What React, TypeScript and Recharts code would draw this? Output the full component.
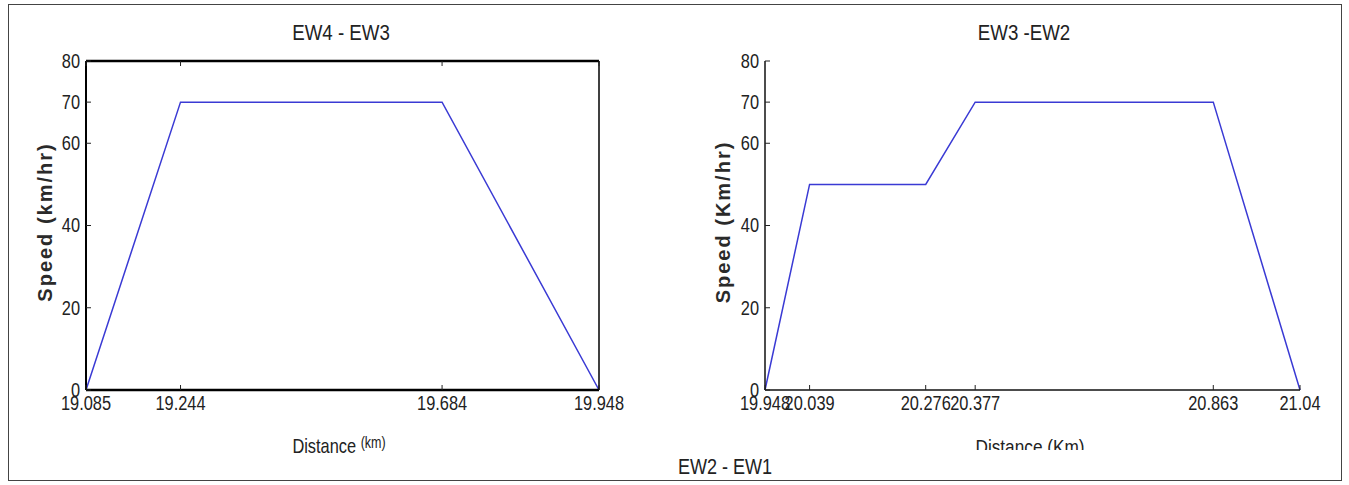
import React from "react";
import { LineChart, Line, XAxis, YAxis } from "recharts";

// EW4 - EW3 run
const leftDistance = [19.085, 19.244, 19.684, 19.948];
const leftSpeed = [0, 70, 70, 0];

// EW3 - EW2 run
const rightDistance = [19.948, 20.039, 20.276, 20.377, 20.863, 21.04];
const rightSpeed = [0, 50, 50, 70, 70, 0];

const speedTicks = [0, 20, 40, 60, 70, 80];

const FONT = "'Liberation Sans', Arial, sans-serif";
const GAP = 3;
const MARK = 5;
const SQUEEZE = 0.78;

const leftData = leftDistance.map((d, i) => ({ distance: d, speed: leftSpeed[i] }));
const rightData = rightDistance.map((d, i) => ({ distance: d, speed: rightSpeed[i] }));

// narrow tick text, the source uses a condensed face
const TickText = ({ x, y, anchor, dy, children }: any) => (
  <text
    transform={`translate(${x},${y}) scale(${SQUEEZE},1)`}
    dy={dy}
    textAnchor={anchor}
    fontFamily={FONT}
    fontSize={21}
    fill="#222"
  >
    {children}
  </text>
);

const BottomTick = (props: any) => {
  const { x, y, payload } = props;
  return (
    <g>
      <line x1={x} y1={y - GAP} x2={x} y2={y - GAP - MARK} stroke="#222" />
      <TickText x={x} y={y} anchor="middle" dy="0.8em">
        {payload.value}
      </TickText>
    </g>
  );
};

const TopTick = (props: any) => {
  const { x, y } = props;
  return <line x1={x} y1={y + GAP} x2={x} y2={y + GAP + MARK} stroke="#222" />;
};

const LeftTick = (props: any) => {
  const { x, y, payload } = props;
  return (
    <g>
      <line x1={x + GAP} y1={y} x2={x + GAP + MARK} y2={y} stroke="#222" />
      <TickText x={x - 3} y={y} anchor="end" dy="0.33em">
        {payload.value}
      </TickText>
    </g>
  );
};

const RightTick = (props: any) => {
  const { x, y } = props;
  return <line x1={x - GAP} y1={y} x2={x - GAP - MARK} y2={y} stroke="#222" />;
};

const textStyle = (scale: number): React.CSSProperties => ({
  position: "absolute",
  fontFamily: FONT,
  color: "#222",
  whiteSpace: "nowrap",
  lineHeight: 1,
  transform: `translateX(-50%) scaleX(${scale})`,
});

const yLabelStyle: React.CSSProperties = {
  position: "absolute",
  fontFamily: FONT,
  fontWeight: "bold",
  fontSize: 20,
  letterSpacing: 2,
  color: "#2a2a2a",
  whiteSpace: "nowrap",
  lineHeight: 1,
  transform: "translate(-50%, -50%) rotate(-90deg)",
};

export default function App() {
  return (
    <div style={{ position: "absolute", left: 0, top: 0, width: 1349, height: 485, background: "#fff" }}>
      <div
        style={{
          position: "absolute",
          left: 8,
          top: 4,
          width: 1332,
          height: 475,
          border: "1.5px solid #444",
        }}
      />

      {/* Left chart: EW4 - EW3 */}
      <div style={{ position: "absolute", left: 0, top: 0 }}>
        <LineChart width={660} height={485} data={leftData} margin={{ top: 60, right: 60, bottom: 65, left: 46 }}>
          <XAxis
            dataKey="distance"
            type="number"
            domain={[leftDistance[0], leftDistance[leftDistance.length - 1]]}
            ticks={leftDistance}
            interval={0}
            tickSize={0}
            tickMargin={GAP}
            tick={BottomTick}
            height={30}
            axisLine={{ stroke: "#000", strokeWidth: 2.5 }}
          />
          <XAxis
            xAxisId="top"
            orientation="top"
            dataKey="distance"
            type="number"
            domain={[leftDistance[0], leftDistance[leftDistance.length - 1]]}
            ticks={leftDistance}
            interval={0}
            tickSize={0}
            tickMargin={GAP}
            tick={TopTick}
            height={1}
            axisLine={{ stroke: "#000", strokeWidth: 2.5 }}
          />
          <YAxis
            type="number"
            domain={[0, 80]}
            ticks={speedTicks}
            interval={0}
            tickSize={0}
            tickMargin={GAP}
            tick={LeftTick}
            width={40}
            axisLine={{ stroke: "#000", strokeWidth: 2 }}
          />
          <YAxis
            yAxisId="right"
            orientation="right"
            type="number"
            domain={[0, 80]}
            ticks={speedTicks}
            interval={0}
            tickSize={0}
            tickMargin={GAP}
            tick={RightTick}
            width={1}
            axisLine={{ stroke: "#000", strokeWidth: 1.5 }}
          />
          <Line
            type="linear"
            dataKey="speed"
            stroke="#3a3ad4"
            strokeWidth={1.5}
            dot={false}
            isAnimationActive={false}
          />
        </LineChart>
      </div>

      {/* Right chart: EW3 - EW2 */}
      <div style={{ position: "absolute", left: 680, top: 0 }}>
        <LineChart width={669} height={485} data={rightData} margin={{ top: 61, right: 49, bottom: 65, left: 45 }}>
          <XAxis
            dataKey="distance"
            type="number"
            domain={[rightDistance[0], rightDistance[rightDistance.length - 1]]}
            ticks={rightDistance}
            interval={0}
            tickSize={0}
            tickMargin={GAP}
            tick={BottomTick}
            height={30}
            axisLine={{ stroke: "#111", strokeWidth: 1.5 }}
          />
          <YAxis
            type="number"
            domain={[0, 80]}
            ticks={speedTicks}
            interval={0}
            tickSize={0}
            tickMargin={GAP}
            tick={LeftTick}
            width={40}
            axisLine={{ stroke: "#111", strokeWidth: 1.5 }}
          />
          <Line
            type="linear"
            dataKey="speed"
            stroke="#3a3ad4"
            strokeWidth={1.5}
            dot={false}
            isAnimationActive={false}
          />
        </LineChart>
      </div>

      <div style={{ ...textStyle(0.85), left: 341, top: 22, fontSize: 22 }}>EW4 - EW3</div>
      <div style={{ ...textStyle(0.85), left: 1024, top: 22, fontSize: 22 }}>EW3 -EW2</div>
      <div style={{ ...yLabelStyle, left: 45, top: 222 }}>Speed (km/hr)</div>
      <div style={{ ...yLabelStyle, left: 723, top: 222 }}>Speed (Km/hr)</div>
      <div style={{ ...textStyle(0.78), left: 339, top: 435, fontSize: 21 }}>
        Distance <span style={{ fontSize: 16, verticalAlign: "top" }}>(km)</span>
      </div>
      <div style={{ ...textStyle(0.82), left: 1030, top: 436, fontSize: 21, height: 14, overflow: "hidden" }}>
        Distance (Km)
      </div>
      <div style={{ ...textStyle(0.82), left: 725, top: 456, fontSize: 22 }}>EW2 - EW1</div>
    </div>
  );
}
